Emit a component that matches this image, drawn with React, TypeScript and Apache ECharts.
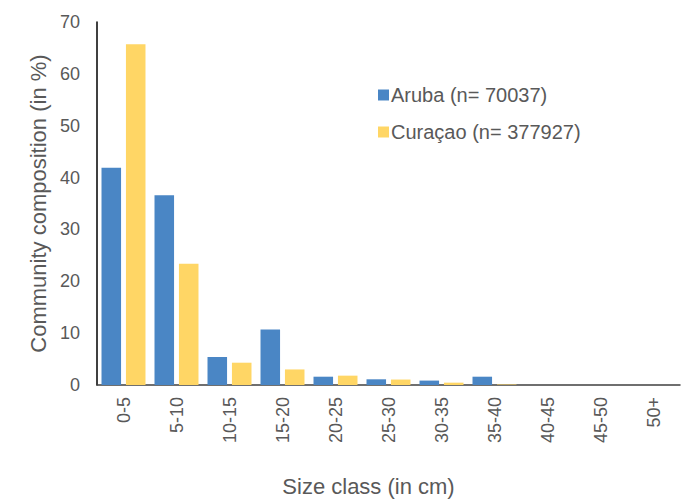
import React, { useEffect, useRef } from "react";
import * as echarts from "echarts";

const categories = ["0-5", "5-10", "10-15", "15-20", "20-25", "25-30", "30-35", "35-40", "40-45", "45-50", "50+"];
const aruba = [41.9, 36.6, 5.4, 10.7, 1.6, 1.1, 0.85, 1.6, 0, 0, 0];
const curacao = [65.7, 23.4, 4.3, 3.0, 1.8, 1.05, 0.45, 0.1, 0, 0, 0];
const seriesNames = ["Aruba (n= 70037)", "Curaçao (n= 377927)"];

export default function App() {
  const ref = useRef<HTMLDivElement>(null);
  useEffect(() => {
    const chart = echarts.init(ref.current!, undefined, { renderer: "svg" });
    const font = "Arial, 'Liberation Sans', sans-serif";
    chart.setOption({
      animation: false,
      backgroundColor: "#ffffff",
      textStyle: { fontFamily: font },
      grid: { left: 97, right: 18, top: 22, bottom: 116, containLabel: false },
      legend: {
        orient: "vertical",
        left: 373,
        top: 80,
        itemGap: 17,
        itemWidth: 11,
        itemHeight: 11,
        icon: "rect",
        textStyle: { fontSize: 20, color: "#595959", fontFamily: font, padding: [0, 0, 0, -3] },
        data: seriesNames,
      },
      xAxis: {
        type: "category",
        data: categories,
        name: "Size class (in cm)",
        nameLocation: "middle",
        nameGap: 90,
        nameTextStyle: { fontSize: 22, color: "#595959", fontFamily: font, padding: [0, 40, 0, 0] },
        axisLine: { lineStyle: { color: "#404040", width: 1.5 } },
        axisTick: { show: false },
        axisLabel: { rotate: 90, fontSize: 18, color: "#595959", margin: 12, fontFamily: font },
      },
      yAxis: {
        type: "value",
        min: 0,
        max: 70,
        interval: 10,
        name: "Community composition (in %)",
        nameLocation: "middle",
        nameGap: 43,
        nameTextStyle: { fontSize: 22, color: "#595959", fontFamily: font },
        axisLine: { show: true, lineStyle: { color: "#000000", width: 1.5 } },
        axisTick: { show: false },
        splitLine: { show: false },
        axisLabel: { fontSize: 18, color: "#595959", margin: 17, fontFamily: font },
      },
      series: [
        {
          name: seriesNames[0],
          type: "bar",
          data: aruba,
          itemStyle: { color: "#4A86C5" },
          barGap: "25%",
          barCategoryGap: "17%",
        },
        {
          name: seriesNames[1],
          type: "bar",
          data: curacao,
          itemStyle: { color: "#FFD665" },
          barGap: "25%",
          barCategoryGap: "17%",
        },
      ],
    });
    return () => chart.dispose();
  }, []);
  return <div ref={ref} style={{ position: "absolute", left: 0, top: 0, width: 698, height: 502 }} />;
}
